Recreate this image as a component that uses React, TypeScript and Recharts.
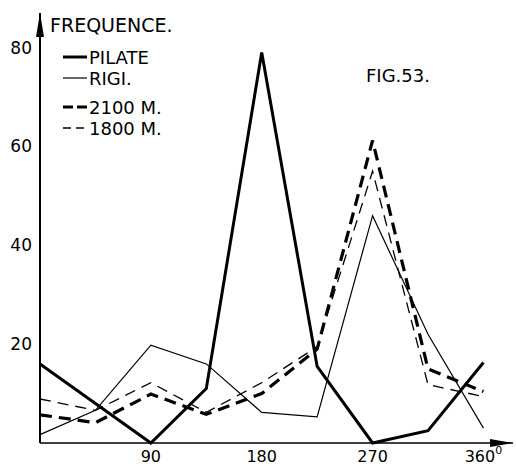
import { LineChart, Line, XAxis, YAxis, Legend } from 'recharts';

// angles in degrees, frequencies
const angles = [0, 45, 90, 135, 180, 225, 270, 315, 360];
const pilate = [16, 8, 0, 11, 79, 15.5, 0, 2.5, 16.3];
const rigi = [1.7, 6.6, 19.8, 16, 6.2, 5.3, 46, 22, 3];
const m2100 = [5.7, 4.1, 9.9, 5.8, 10, 19, 61.2, 15, 10.4];
const m1800 = [8.9, 6.6, 12.2, 6.2, 12.2, 19.5, 55, 11.8, 9.4];

const xTicks = [90, 180, 270, 360];
const yTicks = [20, 40, 60, 80];

const data = angles.map((a, i) => ({
  angle: a,
  pilate: pilate[i],
  rigi: rigi[i],
  m2100: m2100[i],
  m1800: m1800[i],
}));

const FONT = '"DejaVu Sans", sans-serif';

const series = [
  { key: 'pilate', name: 'PILATE', width: 3, dash: undefined, swatch: undefined },
  { key: 'rigi', name: 'RIGI.', width: 1.2, dash: undefined, swatch: undefined },
  { key: 'm2100', name: '2100 M.', width: 3.2, dash: '12 7', swatch: '10 4' },
  { key: 'm1800', name: '1800 M.', width: 1.3, dash: '11 7', swatch: '8 5' },
];

const W = 516;
const H = 468;
const LEFT = 40;
const TOP = 13;
const BOTTOM = 443;
const RIGHT = 513;

function XTick(props: any) {
  const { x, y, payload } = props;
  return (
    <text x={x} y={y} dy="0.71em" textAnchor="middle" fontSize={16} fontFamily={FONT} fill="#000">
      {payload.value}
      {payload.value === 360 && (
        <tspan dy={-8} fontSize={11}>
          0
        </tspan>
      )}
    </text>
  );
}

function LegendBox() {
  const rows = [57, 78, 107, 128];
  return (
    <svg width={140} height={100}>
      {series.map((s, i) => (
        <g key={s.key}>
          <line
            x1={8}
            x2={32}
            y1={rows[i] - 40}
            y2={rows[i] - 40}
            stroke="#000"
            strokeWidth={s.width}
            strokeDasharray={s.swatch}
          />
          <text x={34} y={rows[i] - 40 + 6.5} fontSize={18} fontFamily={FONT} fill="#000">
            {s.name}
          </text>
        </g>
      ))}
    </svg>
  );
}

export default function App() {
  return (
    <div style={{ position: 'absolute', left: 0, top: 0, width: W, height: H, background: '#fff' }}>
      <LineChart
        width={W}
        height={H}
        data={data}
        margin={{ top: TOP, right: W - RIGHT, left: 0, bottom: 0 }}
      >
        <XAxis
          dataKey="angle"
          type="number"
          domain={[0, 384]}
          ticks={xTicks}
          height={H - BOTTOM}
          tickSize={0}
          tickMargin={8}
          tick={<XTick />}
          axisLine={{ stroke: '#000', strokeWidth: 1.6 }}
          tickLine={false}
        />
        <YAxis
          type="number"
          domain={[0, 87]}
          ticks={yTicks}
          width={LEFT}
          tickSize={0}
          tickMargin={8}
          tickLine={false}
          axisLine={{ stroke: '#000', strokeWidth: 2 }}
          tick={{ fontSize: 17, fontFamily: FONT, fill: '#000' }}
        />
        <Legend
          layout="horizontal"
          verticalAlign="middle"
          align="center"
          content={<LegendBox />}
          wrapperStyle={{ position: 'absolute', top: 40, left: 55, width: 140, height: 100 }}
        />
        {series.map((s) => (
          <Line
            key={s.key}
            dataKey={s.key}
            name={s.name}
            type="linear"
            stroke="#000"
            strokeWidth={s.width}
            strokeDasharray={s.dash}
            strokeLinejoin="miter"
            dot={false}
            activeDot={false}
            isAnimationActive={false}
          />
        ))}
      </LineChart>
      <svg
        width={W}
        height={H}
        style={{ position: 'absolute', left: 0, top: 0, pointerEvents: 'none' }}
      >
        <polygon points={`${LEFT},${TOP} ${LEFT - 4},${TOP + 24} ${LEFT + 4},${TOP + 24}`} fill="#000" />
        <polygon points={`${RIGHT},${BOTTOM} ${RIGHT - 23},${BOTTOM - 4} ${RIGHT - 23},${BOTTOM + 4}`} fill="#000" />
        <text x={50} y={32} fontSize={19} fontFamily={FONT} fill="#000">
          FREQUENCE.
        </text>
        <text x={366} y={82} fontSize={18} fontFamily={FONT} fill="#000">
          FIG.53.
        </text>
      </svg>
    </div>
  );
}
